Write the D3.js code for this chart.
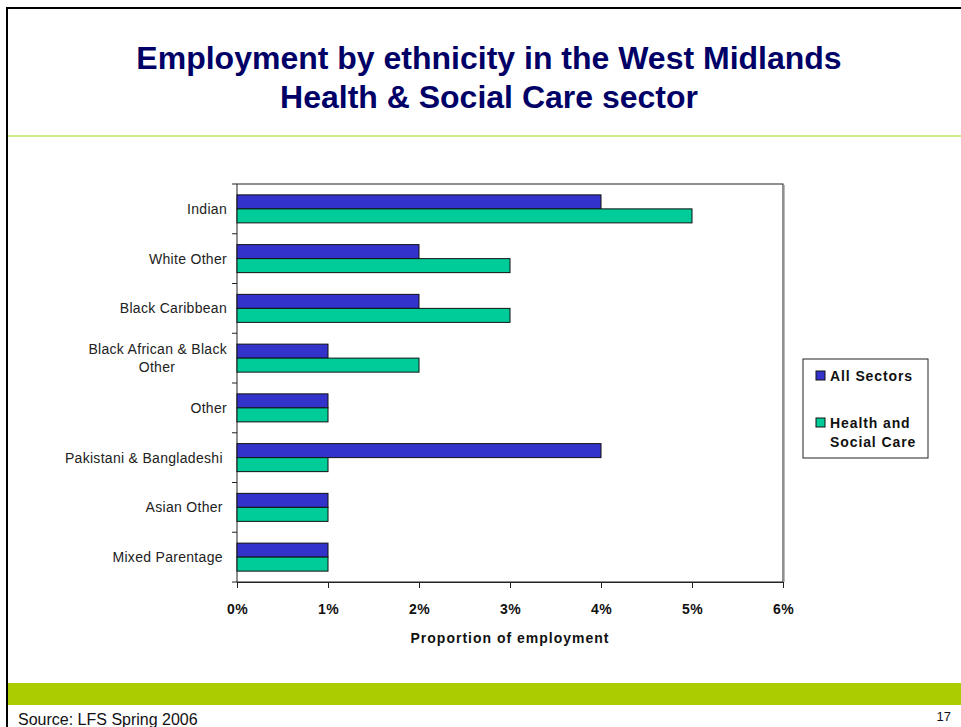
<!DOCTYPE html>
<html>
<head>
<meta charset="utf-8">
<script src="https://cdn.jsdelivr.net/npm/d3@7"></script>
<style>
  html, body { margin: 0; padding: 0; background: #fff; }
  svg { display: block; font-family: Arial, "Liberation Sans", sans-serif; }
  text { white-space: pre; }
</style>
</head>
<body>
<svg id="chart" width="961" height="727"></svg>
<script>
// Ethnic groups, top to bottom
const categories = [
  "Indian",
  "White Other",
  "Black Caribbean",
  "Black African & Black Other",
  "Other",
  "Pakistani & Bangladeshi ",
  "Asian Other ",
  "Mixed Parentage "
];
// Share of employment (%)
const allSectors = [4, 2, 2, 1, 1, 4, 1, 1];
const healthSocialCare = [5, 3, 3, 2, 1, 1, 1, 1];
const seriesNames = ["All Sectors", "Health and Social Care"];
const xTicks = [0, 1, 2, 3, 4, 5, 6];

const svg = d3.select("#chart");

// Slide frame
svg.append("line").attr("x1", 7).attr("x2", 961).attr("y1", 8).attr("y2", 8)
  .attr("stroke", "#000").attr("stroke-width", 2);
svg.append("line").attr("x1", 7).attr("x2", 7).attr("y1", 7).attr("y2", 727)
  .attr("stroke", "#000").attr("stroke-width", 2);
svg.append("line").attr("x1", 8).attr("x2", 961).attr("y1", 136).attr("y2", 136)
  .attr("stroke", "#99dd11").attr("stroke-width", 1.2);
svg.append("rect").attr("x", 8).attr("y", 683).attr("width", 953).attr("height", 22)
  .attr("fill", "#aacc00");

// Title
const title = svg.append("text").attr("text-anchor", "middle")
  .attr("fill", "#000066").attr("font-weight", "bold").attr("font-size", 32);
title.append("tspan").attr("x", 489).attr("y", 69).text("Employment by ethnicity in the West Midlands");
title.append("tspan").attr("x", 489).attr("y", 108).text("Health & Social Care sector");

// Footer
svg.append("text").attr("x", 18).attr("y", 725).attr("font-size", 16).attr("fill", "#111")
  .text("Source: LFS Spring 2006");
svg.append("text").attr("x", 951).attr("y", 721).attr("font-size", 13).attr("fill", "#111")
  .attr("text-anchor", "end").text("17");

// Plot area
const plot = { left: 237, top: 184, right: 783, bottom: 582 };
const x = d3.scaleLinear().domain([0, 6]).range([plot.left, plot.right]);
const y = d3.scaleBand().domain(categories).range([plot.top, plot.bottom]).paddingInner(0.437).paddingOuter(0.2185);
const ySub = d3.scaleBand().domain(seriesNames).range([0, y.bandwidth()]);
const colors = d3.scaleOrdinal().domain(seriesNames).range(["#3333cc", "#00cc99"]);

// light shadow on the right of the plot frame
svg.append("line").attr("x1", plot.right + 1.5).attr("x2", plot.right + 1.5)
  .attr("y1", plot.top + 1).attr("y2", plot.bottom).attr("stroke", "#bbb").attr("stroke-width", 1);
svg.append("rect").attr("x", plot.left).attr("y", plot.top)
  .attr("width", plot.right - plot.left).attr("height", plot.bottom - plot.top)
  .attr("fill", "#fff").attr("stroke", "#222").attr("stroke-width", 1);

// Bars
const rows = categories.map((c, i) => ({ c, vals: [allSectors[i], healthSocialCare[i]] }));
const groups = svg.append("g").selectAll("g").data(rows).join("g")
  .attr("transform", d => `translate(0,${y(d.c)})`);
groups.selectAll("rect").data(d => d.vals.map((v, j) => ({ s: seriesNames[j], v })))
  .join("rect")
  .attr("x", x(0))
  .attr("y", d => ySub(d.s))
  .attr("width", d => x(d.v) - x(0))
  .attr("height", ySub.bandwidth())
  .attr("fill", d => colors(d.s))
  .attr("stroke", "#111").attr("stroke-width", 1);

// X axis
const xAxis = svg.append("g").attr("transform", `translate(0,${plot.bottom})`)
  .call(d3.axisBottom(x).tickValues(xTicks).tickSize(6).tickPadding(16).tickFormat(d => d + "%"));
xAxis.select(".domain").attr("stroke", "#222");
xAxis.selectAll(".tick line").attr("stroke", "#222");
xAxis.selectAll("text").attr("font-size", 14).attr("font-weight", "bold")
  .attr("letter-spacing", 0.5)
  .attr("fill", "#111").attr("font-family", "Arial, 'Liberation Sans', sans-serif");

svg.append("text").attr("x", (plot.left + plot.right) / 2).attr("y", 643)
  .attr("text-anchor", "middle").attr("font-size", 14).attr("font-weight", "bold").attr("fill", "#111")
  .attr("letter-spacing", 1)
  .text("Proportion of employment");

// Y axis: ticks at band boundaries, labels centred on bands
const step = y.step();
const boundaries = d3.range(categories.length + 1).map(i => plot.top + i * step);
svg.append("g").selectAll("line").data(boundaries).join("line")
  .attr("x1", plot.left - 5).attr("x2", plot.left)
  .attr("y1", d => d).attr("y2", d => d)
  .attr("stroke", "#222");

const wrap = { "Black African & Black Other": ["Black African & Black", "Other"] };
const labels = svg.append("g").selectAll("text").data(categories).join("text")
  .attr("font-size", 14).attr("fill", "#222").attr("letter-spacing", 0.3);
labels.each(function(c) {
  const t = d3.select(this);
  const cy = y(c) + y.bandwidth() / 2;
  const lines = wrap[c] || [c];
  lines.forEach((ln, k) => {
    const centred = lines.length > 1 && k > 0;
    t.append("tspan")
      .attr("x", centred ? 157 : 227)
      .attr("text-anchor", centred ? "middle" : "end")
      .attr("y", cy + 5 + (k - (lines.length - 1) / 2) * 18)
      .text(ln);
  });
});

// Legend
const lg = svg.append("g");
lg.append("rect").attr("x", 803).attr("y", 359).attr("width", 125).attr("height", 99)
  .attr("fill", "#fff").attr("stroke", "#222");
const legendItems = [
  { s: seriesNames[0], lines: ["All Sectors"], y: 376 },
  { s: seriesNames[1], lines: ["Health and", "Social Care"], y: 423 }
];
legendItems.forEach(it => {
  lg.append("rect").attr("x", 816).attr("y", it.y - 5).attr("width", 9).attr("height", 9)
    .attr("fill", colors(it.s)).attr("stroke", "#111");
  const t = lg.append("text").attr("font-size", 14).attr("font-weight", "bold").attr("fill", "#111")
    .attr("letter-spacing", 0.9);
  it.lines.forEach((ln, k) => {
    t.append("tspan").attr("x", 830).attr("y", it.y + 5 + k * 19).text(ln);
  });
});
</script>
</body>
</html>
